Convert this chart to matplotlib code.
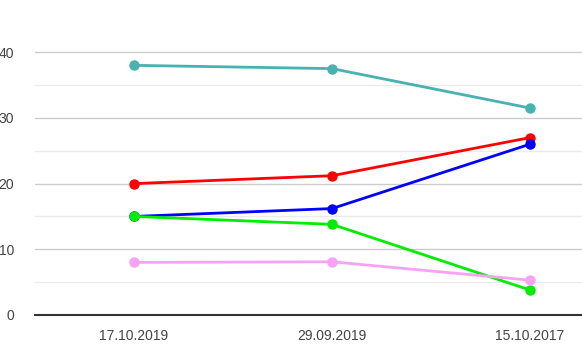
import matplotlib.pyplot as plt
from matplotlib.ticker import MultipleLocator

plt.rcParams['font.family'] = ['Liberation Sans', 'DejaVu Sans']

dates = ['17.10.2019', '29.09.2019', '15.10.2017']
teal = [38.0, 37.5, 31.5]
red = [20.0, 21.2, 27.0]
blue = [15.0, 16.2, 26.0]
green = [15.0, 13.8, 3.8]
pink = [8.0, 8.1, 5.3]

series = [
    (teal, '#47b3b0'),
    (red, '#ff0000'),
    (blue, '#0000ff'),
    (green, '#00ee00'),
    (pink, '#f8a2f5'),
]

W, H = 582, 348
fig = plt.figure(figsize=(W / 100, H / 100), dpi=100)
# plot area runs past the right edge of the canvas
x0, y0 = 35, 315
px_per_cat = 198
px_per_unit = 6.57
ytop = 44.5
ax = fig.add_axes([x0 / W, (H - y0) / H, 3 * px_per_cat / W, ytop * px_per_unit / H])

xs = range(len(dates))
for vals, col in series:
    ax.plot(xs, vals, color=col, lw=2, marker='o', ms=6.5, zorder=3,
            solid_capstyle='round')

ax.set_xlim(-0.5, 2.5)
ax.set_ylim(0, ytop)
ax.yaxis.set_major_locator(MultipleLocator(10))
ax.yaxis.set_minor_locator(MultipleLocator(5))
ax.grid(which='major', axis='y', color='#cccccc', lw=1)
ax.grid(which='minor', axis='y', color='#ebebeb', lw=1)
ax.set_axisbelow(True)

ax.set_xticks(list(xs))
ax.set_xticklabels(dates)
for s in ['top', 'right', 'left']:
    ax.spines[s].set_visible(False)
ax.spines['bottom'].set_color('#333333')
ax.spines['bottom'].set_linewidth(1.5)
ax.spines['bottom'].set_zorder(4)
ax.tick_params(axis='both', which='both', length=0, labelsize=10, labelcolor='#444444')
ax.tick_params(axis='y', pad=15)
ax.tick_params(axis='x', pad=10)

fig.savefig('out.png', dpi=100)
